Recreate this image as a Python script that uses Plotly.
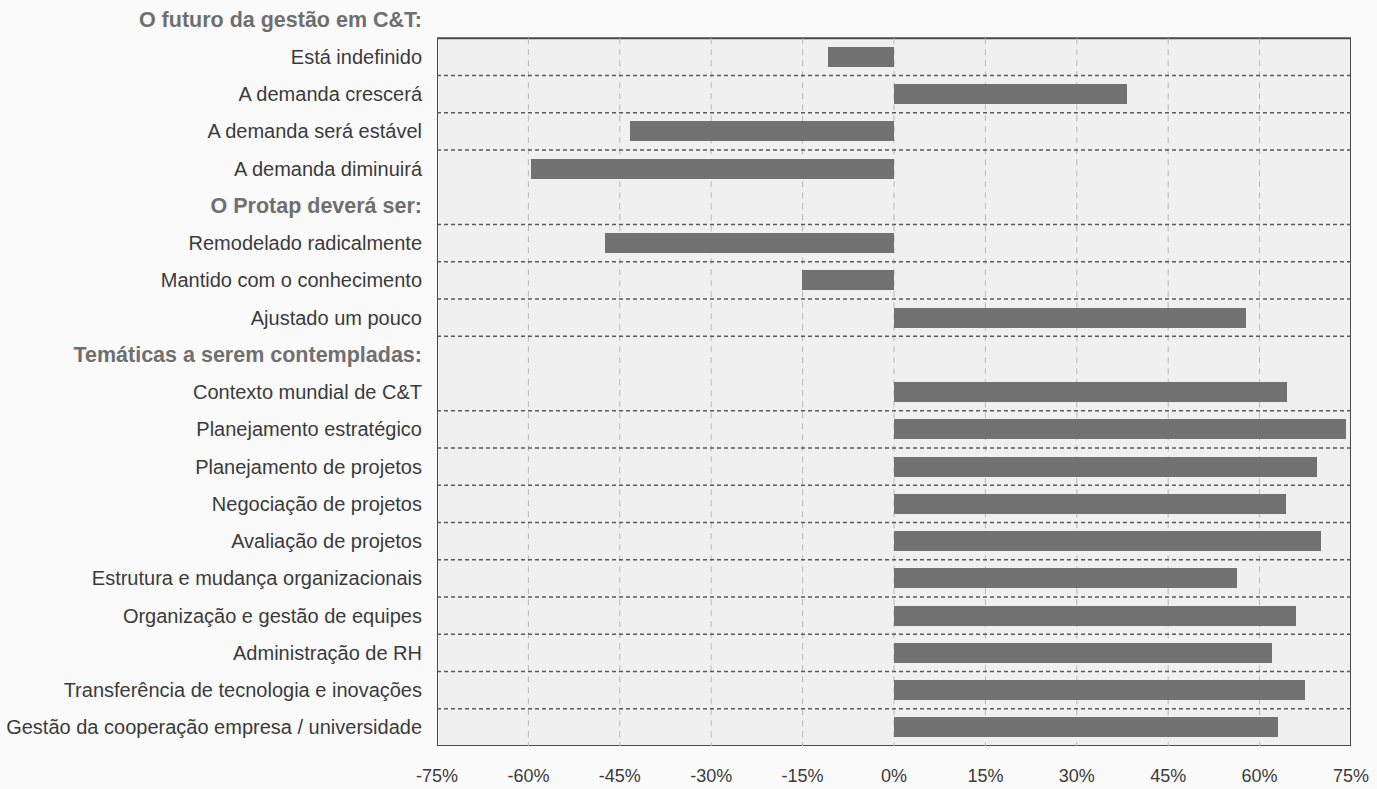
import plotly.graph_objects as go

# Section headings (rows without a bar)
section_titles = [
    "O futuro da gestão em C&T:",
    "O Protap deverá ser:",
    "Temáticas a serem contempladas:",
]

# Section 1: future of S&T management
future_items = [
    "Está indefinido",
    "A demanda crescerá",
    "A demanda será estável",
    "A demanda diminuirá",
]
future_values = [-10.9, 38.2, -43.3, -59.6]

# Section 2: what Protap should become
protap_items = [
    "Remodelado radicalmente",
    "Mantido com o conhecimento",
    "Ajustado um pouco",
]
protap_values = [-47.5, -15.1, 57.8]

# Section 3: topics to be covered
topic_items = [
    "Contexto mundial de C&T",
    "Planejamento estratégico",
    "Planejamento de projetos",
    "Negociação de projetos",
    "Avaliação de projetos",
    "Estrutura e mudança organizacionais",
    "Organização e gestão de equipes",
    "Administração de RH",
    "Transferência de tecnologia e inovações",
    "Gestão da cooperação empresa / universidade",
]
topic_values = [64.5, 74.2, 69.4, 64.3, 70.1, 56.3, 66.0, 62.0, 67.4, 63.0]

x_ticks = [-75, -60, -45, -30, -15, 0, 15, 30, 45, 60, 75]
x_tick_labels = ["-75%", "-60%", "-45%", "-30%", "-15%", "0%",
                 "15%", "30%", "45%", "60%", "75%"]

FONT = "Liberation Sans, Arial, sans-serif"
TEXT = "#3a3a3a"
HEAD = "#6f6f6f"

# Assemble the rows top to bottom: heading, then its items
rows, row_values, is_heading = [], [], []
for title, items, vals in [
    (section_titles[0], future_items, future_values),
    (section_titles[1], protap_items, protap_values),
    (section_titles[2], topic_items, topic_values),
]:
    rows.append(title); row_values.append(None); is_heading.append(True)
    for it, v in zip(items, vals):
        rows.append(it); row_values.append(v); is_heading.append(False)

n = len(rows)
idx = list(range(n))

tick_text = []
for r, h in zip(rows, is_heading):
    if h:
        tick_text.append(
            f"<b><span style='font-size:21.5px;color:{HEAD}'>{r}</span></b>")
    else:
        tick_text.append(r)

bar_y = [i for i, v in zip(idx, row_values) if v is not None]
bar_x = [v for v in row_values if v is not None]

fig = go.Figure()
fig.add_trace(go.Bar(
    x=bar_x, y=bar_y, orientation="h", width=0.54,
    marker=dict(color="#727272", line=dict(width=0)),
    hoverinfo="x+y",
))

x_lo, x_hi = x_ticks[0], x_ticks[-1]
y_top, y_bot = 0.5, n - 0.5

shapes = [
    # framed plotting box
    dict(type="rect", xref="x", yref="y", x0=x_lo, x1=x_hi, y0=y_top, y1=y_bot,
         fillcolor="#f0f0f0", line=dict(color="#4a4a4a", width=2), layer="below"),
]
# vertical guide lines at each tick
for t in x_ticks[1:-1]:
    shapes.append(dict(type="line", xref="x", yref="y", x0=t, x1=t, y0=y_top, y1=y_bot,
                       line=dict(color="#b8b8b8", width=1, dash="6px,5px"), layer="below"))
# dashed separators between rows
skip = {4, 9}
for k in range(1, n - 1):
    if k in skip:
        continue
    shapes.append(dict(type="line", xref="x", yref="y", x0=x_lo, x1=x_hi,
                       y0=k + 0.5, y1=k + 0.5,
                       line=dict(color="#5a5a5a", width=1.6, dash="4px,3px"), layer="below"))

fig.update_layout(
    width=1377, height=789, autosize=False,
    margin=dict(l=437, r=26, t=1, b=43),
    paper_bgcolor="#fafafa", plot_bgcolor="rgba(0,0,0,0)",
    showlegend=False, bargap=0,
    shapes=shapes,
    font=dict(family=FONT, color=TEXT),
)
fig.update_xaxes(
    range=[x_lo, x_hi], tickvals=x_ticks, ticktext=x_tick_labels,
    showgrid=False, zeroline=False, showline=False, ticks="",
    tickfont=dict(family=FONT, size=18, color=TEXT), ticklabelstandoff=17,
)
fig.update_yaxes(
    range=[n - 0.5, -0.5], tickvals=idx, ticktext=tick_text,
    showgrid=False, zeroline=False, showline=False, ticks="",
    tickfont=dict(family=FONT, size=20, color=TEXT), ticklabelstandoff=14,
)

fig.write_html("out.html")
